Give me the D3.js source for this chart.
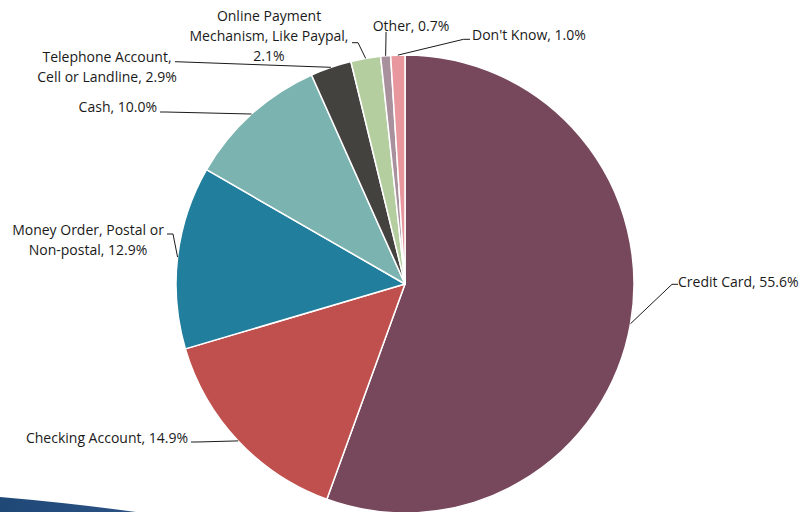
<!DOCTYPE html>
<html>
<head>
<meta charset="utf-8">
<script src="https://cdn.jsdelivr.net/npm/d3@7"></script>
<style>
  html, body { margin: 0; padding: 0; background: #fff; }
  svg { display: block; }
  text { font-family: "Open Sans", Lato, sans-serif; font-size: 14px; fill: #1a1a1a; }
</style>
</head>
<body>
<svg id="chart" width="801" height="512"></svg>
<script>
// Payment methods and their shares (%)
const categories = [
  "Credit Card",
  "Checking Account",
  "Money Order, Postal or Non-postal",
  "Cash",
  "Telephone Account, Cell or Landline",
  "Online Payment Mechanism, Like Paypal",
  "Other",
  "Don't Know"
];
const values = [55.6, 14.9, 12.9, 10.0, 2.9, 2.1, 0.7, 1.0];
const labelLines = [
  ["Credit Card, 55.6%"],
  ["Checking Account, 14.9%"],
  ["Money Order, Postal or", "Non-postal, 12.9%"],
  ["Cash, 10.0%"],
  ["Telephone Account,", "Cell or Landline, 2.9%"],
  ["Online Payment", "Mechanism, Like Paypal,", "2.1%"],
  ["Other, 0.7%"],
  ["Don't Know, 1.0%"]
];
const colors = ["#77485c", "#c0504d", "#217e9c", "#7bb3b1", "#43423f", "#b5cea0", "#a8919c", "#e8979e"];

// Label placement: text origin, anchor, and leader-line points beside the text
const labelLayout = [
  { x: 678, y: 282,  anchor: "start",  attach: [678, 284.3], elbow: [672, 284.3] },
  { x: 188, y: 438,  anchor: "end",    attach: [191, 442],   elbow: [197, 442] },
  { x: 88,  y: 230,  anchor: "middle", attach: [167, 234],   elbow: [173, 234] },
  { x: 157, y: 107.5,anchor: "end",    attach: [160, 112],   elbow: [166, 112] },
  { x: 107, y: 57.5, anchor: "middle", attach: [175, 61.7],  elbow: [181, 61.9] },
  { x: 269, y: 16.5, anchor: "middle", attach: [352, 42.7],  elbow: [358, 42.7] },
  { x: 411, y: 26.5, anchor: "middle", attach: [386, 32],    elbow: [386, 36] },
  { x: 472, y: 35,   anchor: "start",  attach: [470, 39.3],  elbow: [463.5, 39.3] }
];

const svg = d3.select("#chart");
const cx = 405, cy = 284, r = 229;

// Decorative swoosh in the lower-left corner
const grad = svg.append("defs").append("linearGradient")
  .attr("id", "swoosh").attr("x1", "0").attr("x2", "1").attr("y1", "0").attr("y2", "0");
grad.append("stop").attr("offset", "0").attr("stop-color", "#1f4877");
grad.append("stop").attr("offset", "1").attr("stop-color", "#2a5384");
svg.append("path")
  .attr("d", "M0,497 Q70,503 136,512 L0,512 Z")
  .attr("fill", "url(#swoosh)");

const pie = d3.pie().sort(null).value(d => d);
const arcs = pie(values);
const arc = d3.arc().innerRadius(0).outerRadius(r);

const g = svg.append("g").attr("transform", `translate(${cx},${cy})`);
g.selectAll("path.slice")
  .data(arcs)
  .join("path")
  .attr("class", "slice")
  .attr("d", arc)
  .attr("fill", (d, i) => colors[i])
  .attr("stroke", "#fff")
  .attr("stroke-width", 1.5)
  .attr("stroke-linejoin", "round");

// Leader lines from the arc edge at each slice's mid-angle
const edgePoint = d => {
  const a = (d.startAngle + d.endAngle) / 2;
  return [cx + r * Math.sin(a), cy - r * Math.cos(a)];
};
const line = d3.line();
svg.selectAll("path.leader")
  .data(arcs)
  .join("path")
  .attr("class", "leader")
  .attr("d", (d, i) => line([labelLayout[i].attach, labelLayout[i].elbow, edgePoint(d)]))
  .attr("fill", "none")
  .attr("stroke", "#1a1a1a")
  .attr("stroke-width", 1);

// Data labels
svg.selectAll("text.label")
  .data(arcs)
  .join("text")
  .attr("class", "label")
  .attr("text-anchor", (d, i) => labelLayout[i].anchor)
  .each(function (d, i) {
    const L = labelLayout[i];
    d3.select(this).selectAll("tspan")
      .data(labelLines[i])
      .join("tspan")
      .attr("x", L.x)
      .attr("y", (t, j) => L.y + j * 20)
      .attr("dy", "0.35em")
      .text(t => t);
  });
</script>
</body>
</html>
